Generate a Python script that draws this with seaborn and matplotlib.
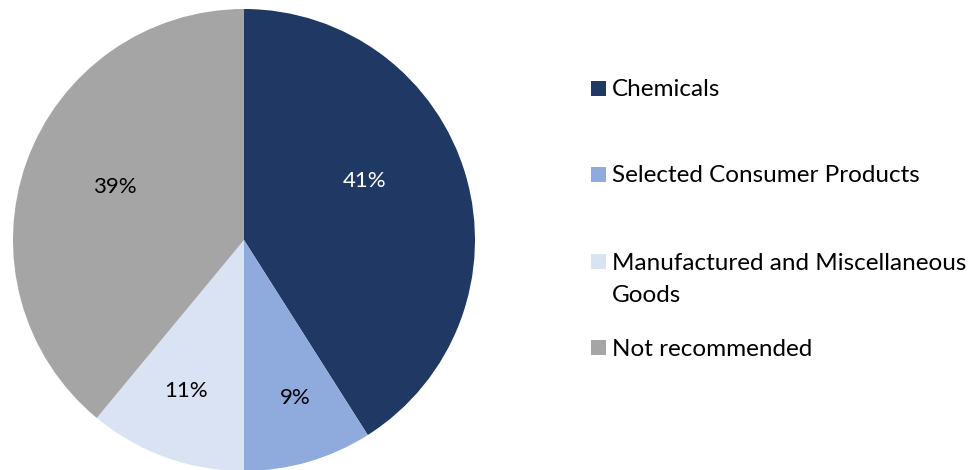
import matplotlib
matplotlib.use("Agg")
import matplotlib.pyplot as plt
from matplotlib.patches import Rectangle
import seaborn as sns

# Share of items by category
categories = ["Chemicals", "Selected Consumer Products",
              "Manufactured and Miscellaneous Goods", "Not recommended"]
shares = [41, 9, 11, 39]
colors = ["#203864", "#8FAADC", "#DAE3F3", "#A5A5A5"]
label_colors = ["white", "black", "black", "black"]
legend_lines = [["Chemicals"], ["Selected Consumer Products"],
                ["Manufactured and Miscellaneous", "Goods"], ["Not recommended"]]

sns.set_theme(style="white")
plt.rcParams["font.family"] = ["Lato", "DejaVu Sans"]

W, H = 980, 470
fig = plt.figure(figsize=(W / 100, H / 100), dpi=100)
fig.patch.set_facecolor("white")

cx, cy, r = 244, 240, 231
ax = fig.add_axes([(cx - r) / W, (H - cy - r) / H, 2 * r / W, 2 * r / H])
wedges, texts, autotexts = ax.pie(
    shares, colors=colors, startangle=90, counterclock=False,
    radius=1.0, autopct="%d%%", pctdistance=0.6,
    wedgeprops=dict(linewidth=0),
    textprops=dict(fontsize=16),
)
# data-label placement inside each slice
label_pos = [(0.524, 0.255), (0.221, -0.684), (-0.251, -0.654), (-0.558, 0.229)]
for t, pos, c in zip(autotexts, label_pos, label_colors):
    t.set_position(pos)
    t.set_color(c)
    t.set_ha("center")
    t.set_va("center")
ax.set_xlim(-1, 1)
ax.set_ylim(-1, 1)
ax.set_aspect("equal")
ax.axis("off")

# legend: colour squares with labels
sq = 15
rows_y = [88, 174, 261, 347]
line_gap = 32
for col, lines, y in zip(colors, legend_lines, rows_y):
    fig.patches.append(Rectangle((591 / W, (H - y - sq / 2) / H), sq / W, sq / H,
                                 transform=fig.transFigure, facecolor=col,
                                 edgecolor="none"))
    for i, line in enumerate(lines):
        fig.text(612 / W, (H - y - 2 - i * line_gap) / H, line, fontsize=17.5,
                 color="black", ha="left", va="center")

fig.savefig("out.png", dpi=100, facecolor="white")
